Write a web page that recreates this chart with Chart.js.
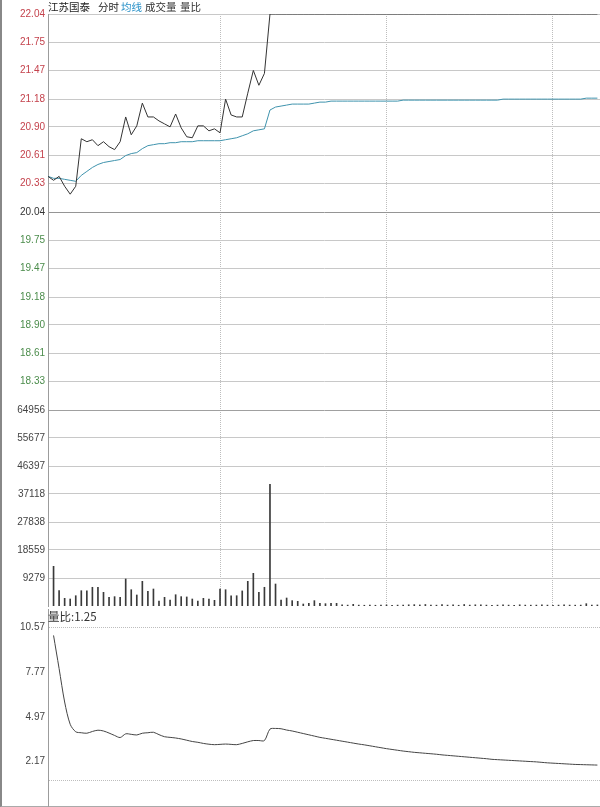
<!DOCTYPE html>
<html>
<head>
<meta charset="utf-8">
<script src="https://cdn.jsdelivr.net/npm/chart.js@4.4.0/dist/chart.umd.min.js"></script>
<style>
  html, body { margin: 0; padding: 0; background: #fff; }
  body { width: 600px; height: 807px; overflow: hidden; position: relative; }
  #frame { position: absolute; left: 0; top: 0; width: 600px; height: 807px; box-sizing: border-box;
           border-left: 2px solid #888; border-bottom: 1px solid #aaa; }
  canvas { position: absolute; left: 0; }
  .txt { position: absolute; font-family: "Noto Sans CJK SC", sans-serif; font-size: 10.5px;
         line-height: 14px; white-space: nowrap; color: #222; }
</style>
</head>
<body>
<div id="frame"></div>
<canvas id="priceChart" width="600" height="420" style="top:0px"></canvas>
<canvas id="volChart" width="600" height="215" style="top:400px"></canvas>
<canvas id="ratioChart" width="600" height="215" style="top:600px"></canvas>

<span class="txt" style="left:48px;top:0px">江苏国泰</span>
<span class="txt" style="left:98px;top:0px">分时</span>
<span class="txt" style="left:121px;top:0px;color:#2790c8">均线</span>
<span class="txt" style="left:145px;top:0px;color:#333">成交量</span>
<span class="txt" style="left:180px;top:0px;color:#333">量比</span>
<span class="txt" id="ratioTitle" style="left:48px;top:609px;font-size:11.5px;color:#333"></span>

<script>
// 2-minute samples, 09:30 .. 14:16 (11:30 and 13:00 share one slot)
const times = [
  '09:30','09:32','09:34','09:36','09:38','09:40','09:42','09:44','09:46','09:48',
  '09:50','09:52','09:54','09:56','09:58','10:00','10:02','10:04','10:06','10:08',
  '10:10','10:12','10:14','10:16','10:18','10:20','10:22','10:24','10:26','10:28',
  '10:30','10:32','10:34','10:36','10:38','10:40','10:42','10:44','10:46','10:48',
  '10:50','10:52','10:54','10:56','10:58','11:00','11:02','11:04','11:06','11:08',
  '11:10','11:12','11:14','11:16','11:18','11:20','11:22','11:24','11:26','11:28',
  '11:30','13:02','13:04','13:06','13:08','13:10','13:12','13:14','13:16','13:18',
  '13:20','13:22','13:24','13:26','13:28','13:30','13:32','13:34','13:36','13:38',
  '13:40','13:42','13:44','13:46','13:48','13:50','13:52','13:54','13:56','13:58',
  '14:00','14:02','14:04','14:06','14:08','14:10','14:12','14:14','14:16'
];

const price = [
  20.36, 20.40, 20.30, 20.22, 20.30, 20.78, 20.75, 20.77, 20.71, 20.75,
  20.70, 20.67, 20.75, 21.00, 20.82, 20.91, 21.14, 21.00, 21.00, 20.96,
  20.93, 20.90, 21.03, 20.89, 20.80, 20.79, 20.91, 20.91, 20.86, 20.88,
  20.84, 21.18, 21.02, 21.00, 21.00, 21.24, 21.47, 21.32, 21.44, 22.04,
  22.04, 22.04, 22.04, 22.04, 22.04, 22.04, 22.04, 22.04, 22.04, 22.04,
  22.04, 22.04, 22.04, 22.04, 22.04, 22.04, 22.04, 22.04, 22.04, 22.04,
  22.04, 22.04, 22.04, 22.04, 22.04, 22.04, 22.04, 22.04, 22.04, 22.04,
  22.04, 22.04, 22.04, 22.04, 22.04, 22.04, 22.04, 22.04, 22.04, 22.04,
  22.04, 22.04, 22.04, 22.04, 22.04, 22.04, 22.04, 22.04, 22.04, 22.04,
  22.04, 22.04, 22.04, 22.04, 22.04, 22.04, 22.04, 22.04, 22.04
];

const avgPrice = [
  20.38, 20.38, 20.37, 20.36, 20.35, 20.41, 20.45, 20.49, 20.52, 20.54,
  20.55, 20.56, 20.57, 20.61, 20.63, 20.64, 20.68, 20.71, 20.72, 20.73,
  20.73, 20.74, 20.74, 20.75, 20.75, 20.75, 20.76, 20.76, 20.76, 20.76,
  20.76, 20.77, 20.78, 20.79, 20.81, 20.83, 20.86, 20.87, 20.88, 21.07,
  21.10, 21.11, 21.12, 21.13, 21.13, 21.13, 21.13, 21.14, 21.15, 21.15,
  21.16, 21.16, 21.16, 21.16, 21.16, 21.16, 21.16, 21.16, 21.16, 21.16,
  21.16, 21.16, 21.16, 21.17, 21.17, 21.17, 21.17, 21.17, 21.17, 21.17,
  21.17, 21.17, 21.17, 21.17, 21.17, 21.17, 21.17, 21.17, 21.17, 21.17,
  21.17, 21.18, 21.18, 21.18, 21.18, 21.18, 21.18, 21.18, 21.18, 21.18,
  21.18, 21.18, 21.18, 21.18, 21.18, 21.18, 21.19, 21.19, 21.19
];

const volume = [
  13150, 5070, 2550, 2320, 3410, 5070, 5000, 6200, 6200, 4540,
  2880, 3100, 2880, 8950, 5400, 3650, 8180, 4870, 5630, 1660,
  2880, 1990, 3740, 3100, 3000, 2320, 1660, 2550, 2320, 1880,
  5630, 5400, 3410, 3410, 5000, 8180, 10830, 4540, 6200, 40320,
  7290, 1990, 2650, 1770, 1550, 660, 880, 1770, 880, 770,
  880, 880, 350, 300, 550, 300, 250, 300, 250, 300,
  350, 250, 300, 280, 400, 450, 350, 500, 300, 280,
  450, 300, 350, 250, 500, 300, 400, 350, 300, 250,
  300, 350, 300, 250, 400, 300, 280, 300, 350, 300,
  250, 300, 350, 300, 280, 300, 770, 300, 350
];

const volRatio = [
  10.08, 8.00, 5.90, 4.50, 4.03, 3.97, 3.94, 4.05, 4.13, 4.08,
  3.95, 3.80, 3.67, 3.90, 3.87, 3.83, 3.94, 3.97, 4.00, 3.85,
  3.72, 3.68, 3.64, 3.58, 3.50, 3.42, 3.37, 3.30, 3.25, 3.22,
  3.24, 3.26, 3.24, 3.22, 3.30, 3.40, 3.48, 3.48, 3.48, 4.20,
  4.24, 4.22, 4.14, 4.08, 4.00, 3.92, 3.84, 3.76, 3.68, 3.62,
  3.56, 3.50, 3.44, 3.38, 3.32, 3.26, 3.21, 3.15, 3.09, 3.03,
  2.97, 2.92, 2.87, 2.82, 2.78, 2.74, 2.71, 2.68, 2.65, 2.62,
  2.58, 2.55, 2.52, 2.49, 2.46, 2.43, 2.40, 2.37, 2.34, 2.30,
  2.28, 2.26, 2.24, 2.22, 2.20, 2.18, 2.16, 2.14, 2.11, 2.08,
  2.06, 2.04, 2.02, 2.00, 1.98, 1.97, 1.96, 1.95, 1.94
];

const openPrice = 20.40;   // call auction point, sits on the left edge
const prevClose = 20.04;
const ratioNow = '1.25';

const priceTicks = [22.04, 21.75, 21.47, 21.18, 20.90, 20.61, 20.33, 20.04,
                    19.75, 19.47, 19.18, 18.90, 18.61, 18.33];
const volumeTicks = [64956, 55677, 46397, 37118, 27838, 18559, 9279];
const ratioTicks = [10.57, 7.77, 4.97, 2.17];
const ratioRefLine = 1.00;
const hourMarks = ['10:30', '11:30', '14:00'];

// visible window of the session (the screenshot is cut at the right)
const X_MIN = -1, X_MAX = 98.47;
const AXIS_W = 48;
const UP = '#c4424c', DOWN = '#4b8c4b';
const GRID = '#c8c8c8';

Chart.defaults.font.family = '"Liberation Sans", Arial, sans-serif';
Chart.defaults.font.size = 10;
Chart.defaults.color = '#444';

document.getElementById('ratioTitle').textContent = '量比:' + ratioNow;

const pts = arr => arr.map((v, i) => ({ x: i, y: v }));
const asc = arr => arr.slice().sort((a, b) => a - b);

function timeAxis(showGrid) {
  return {
    type: 'linear', min: X_MIN, max: X_MAX, offset: false,
    afterBuildTicks: s => { s.ticks = hourMarks.map(t => ({ value: times.indexOf(t) })); },
    afterFit: s => { s.height = 0; },
    ticks: { display: false },
    border: { display: false, dash: [1, 1] },
    grid: { display: showGrid, offset: false, drawTicks: false, color: '#bdbdbd', lineWidth: 1 }
  };
}

function valueAxis(min, max, tickValues, extra) {
  return Object.assign({
    min: min, max: max,
    afterBuildTicks: s => { s.ticks = asc(tickValues).map(v => ({ value: v })); },
    afterFit: s => { s.width = AXIS_W; },
    border: { display: true, color: '#9c9c9c', width: 1 },
  }, extra);
}

const baseOptions = {
  responsive: false, animation: false, events: [],
  plugins: { legend: { display: false }, tooltip: { enabled: false } }
};

// price panel
new Chart(document.getElementById('priceChart'), {
  type: 'line',
  data: {
    datasets: [
      { data: [{ x: X_MIN, y: openPrice }, ...pts(price)], borderColor: '#333', borderWidth: 1,
        pointRadius: 0, tension: 0 },
      { data: [{ x: X_MIN, y: openPrice }, ...pts(avgPrice)], borderColor: '#3f93ad', borderWidth: 1,
        pointRadius: 0, tension: 0 }
    ]
  },
  options: Object.assign({}, baseOptions, {
    layout: { padding: { top: 14, bottom: 10, left: 0, right: 0 } },
    scales: {
      x: timeAxis(true),
      y: valueAxis(18.04, 22.04, priceTicks, {
        ticks: {
          autoSkip: false, padding: 3,
          color: c => c.tick.value > prevClose ? UP : (c.tick.value < prevClose ? DOWN : '#333'),
          callback: v => v.toFixed(2)
        },
        grid: { drawTicks: false, color: c => c.tick.value === prevClose ? '#959595' : GRID }
      })
    }
  })
});

// volume panel
new Chart(document.getElementById('volChart'), {
  type: 'bar',
  data: {
    datasets: [{ data: pts(volume), backgroundColor: '#3a3a3a', barThickness: 1, borderWidth: 0 }]
  },
  options: Object.assign({}, baseOptions, {
    layout: { padding: { top: 10, bottom: 8, left: 0, right: 0 } },
    scales: {
      x: timeAxis(true),
      y: valueAxis(0, 64956, volumeTicks, {
        ticks: { autoSkip: false, padding: 3, color: '#444', callback: v => String(v) },
        grid: { drawTicks: false, color: c => c.tick.value === volumeTicks[0] ? '#a0a0a0' : GRID }
      })
    }
  })
});

// volume ratio panel
new Chart(document.getElementById('ratioChart'), {
  type: 'line',
  data: {
    datasets: [{ data: pts(volRatio), borderColor: '#444', borderWidth: 1, pointRadius: 0, tension: 0.3 }]
  },
  options: Object.assign({}, baseOptions, {
    layout: { padding: { top: 7, bottom: 9, left: 0, right: 0 } },
    scales: {
      x: timeAxis(false),
      y: valueAxis(-0.63, 11.74, ratioTicks.concat([ratioRefLine]), {
        ticks: { autoSkip: false, padding: 3, color: '#444',
                 callback: v => v === ratioRefLine ? '' : v.toFixed(2) },
        border: { display: true, color: '#9c9c9c', width: 1, dash: [1, 1] },
        grid: { drawTicks: false,
                color: c => (c.tick.value === ratioTicks[0] || c.tick.value === ratioRefLine) ? '#bdbdbd' : 'rgba(0,0,0,0)' }
      })
    }
  })
});
</script>
</body>
</html>
